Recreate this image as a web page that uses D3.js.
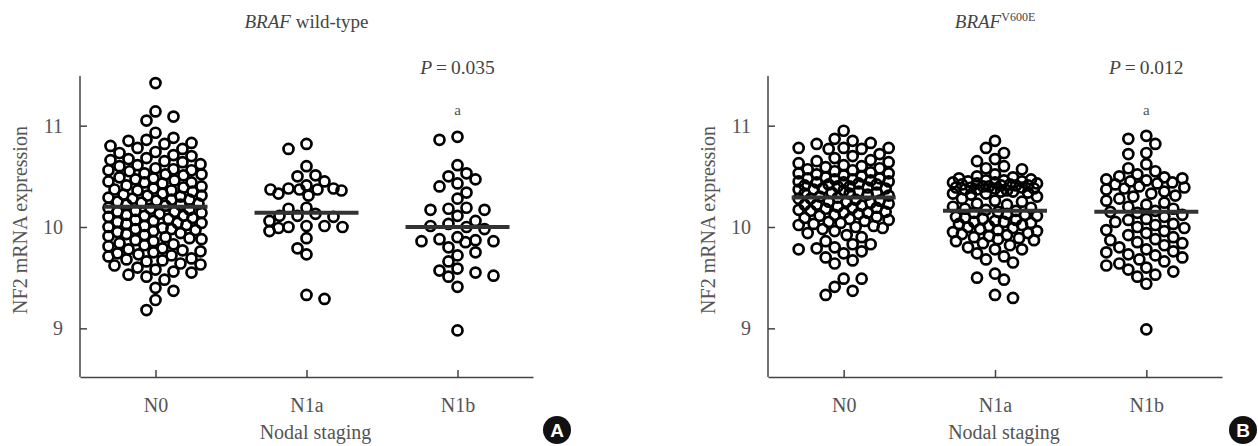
<!DOCTYPE html>
<html><head><meta charset="utf-8">
<script src="https://cdn.jsdelivr.net/npm/d3@7"></script>
<style>body{margin:0;background:#fff} svg{display:block} text{font-family:"Liberation Serif","DejaVu Serif","Noto Serif","Times New Roman",serif}</style>
</head><body><svg id="c" width="1258" height="446"></svg>
<script>
const categories = ["N0", "N1a", "N1b"];
const yTicks = [9, 10, 11];
const xAxisTitle = "Nodal staging";
const yAxisTitle = "NF2 mRNA expression";
const panelLetters = ["A", "B"];
const pValues = ["0.035", "0.012"];
const sigMarks = ["a", "a"];

// BRAF wild-type
const wtN0 = [11.42, 11.14, 11.09, 11.05,
  10.93, 10.88, 10.86, 10.85, 10.83, 10.82, 10.80,
  10.78, 10.77, 10.74, 10.73, 10.71, 10.70, 10.68, 10.66,
  10.67, 10.65, 10.64, 10.62, 10.61, 10.60, 10.58, 10.57, 10.56,
  10.56, 10.55, 10.53, 10.52, 10.52, 10.51, 10.49, 10.48, 10.47, 10.46, 10.45, 10.44,
  10.44, 10.43, 10.41, 10.40, 10.39, 10.38, 10.37, 10.36, 10.35, 10.33, 10.32, 10.36, 10.31,
  10.31, 10.30, 10.29, 10.28, 10.27, 10.26, 10.25, 10.24, 10.23, 10.22, 10.21, 10.19, 10.27, 10.22,
  10.18, 10.17, 10.16, 10.15, 10.14, 10.13, 10.12, 10.11, 10.10, 10.09, 10.08, 10.07, 10.15, 10.11,
  10.06, 10.05, 10.04, 10.03, 10.02, 10.01, 10.00, 9.99, 9.98, 9.97, 9.96, 9.95, 10.04, 9.98,
  9.94, 9.93, 9.92, 9.91, 9.89, 9.88, 9.87, 9.86, 9.84, 9.83, 9.90,
  9.82, 9.81, 9.79, 9.78, 9.77, 9.76, 9.74, 9.73, 9.72, 9.71, 9.75,
  9.69, 9.68, 9.67, 9.66, 9.64, 9.63, 9.62, 9.60,
  9.58, 9.56, 9.55, 9.53, 9.51, 9.48, 9.40, 9.37, 9.28, 9.18];
const wtN1a = [10.82, 10.77, 10.60, 10.51, 10.50, 10.45, 10.41, 10.38, 10.38, 10.37, 10.37, 10.37,
  10.36, 10.33, 10.31, 10.19, 10.18, 10.13, 10.11, 10.11, 10.10, 10.06, 10.01, 10.01, 10.00,
  10.00, 9.99, 9.96, 9.89, 9.79, 9.73, 9.33, 9.29];
const wtN1b = [10.89, 10.86, 10.61, 10.53, 10.50, 10.47, 10.43, 10.40, 10.34, 10.28, 10.19, 10.18,
  10.17, 10.17, 10.11, 10.06, 10.03, 10.01, 10.00, 9.98, 9.90, 9.88, 9.87, 9.86, 9.86, 9.85,
  9.80, 9.75, 9.72, 9.66, 9.59, 9.57, 9.55, 9.52, 9.51, 9.41, 8.98];
const wtMeans = [10.20, 10.14, 10.00];

// BRAF V600E
const v600eN0 = [10.95, 10.87, 10.85, 10.83, 10.82, 10.78, 10.78, 10.78, 10.77, 10.77, 10.72, 10.70, 10.68,
  10.66, 10.65, 10.64, 10.63, 10.61, 10.60, 10.59, 10.58, 10.57, 10.56, 10.55, 10.54, 10.53, 10.53, 10.52, 10.51, 10.50,
  10.49, 10.48, 10.48, 10.47, 10.46, 10.45, 10.45, 10.44, 10.43, 10.42, 10.42, 10.41, 10.40, 10.40, 10.39, 10.38,
  10.37, 10.37, 10.36, 10.35, 10.34, 10.34, 10.33, 10.32, 10.31, 10.30, 10.44, 10.38, 10.33, 10.47,
  10.29, 10.28, 10.28, 10.27, 10.26, 10.25, 10.24, 10.23, 10.22, 10.22, 10.21, 10.20, 10.19, 10.18, 10.17,
  10.16, 10.15, 10.14, 10.13, 10.12, 10.11, 10.10, 10.25, 10.19, 10.14,
  10.09, 10.08, 10.07, 10.06, 10.05, 10.04, 10.03, 10.02, 10.01, 10.00, 9.99, 9.98, 9.96, 9.94, 9.92, 9.90,
  9.86, 9.83, 9.83, 9.80, 9.79, 9.78, 9.76, 9.74, 9.70, 9.67, 9.64, 9.49, 9.49, 9.41, 9.37, 9.33];
const v600eN1a = [10.85, 10.78, 10.73, 10.67, 10.65, 10.60, 10.58, 10.57, 10.52, 10.50, 10.49, 10.48,
  10.47, 10.46, 10.45, 10.45, 10.44, 10.43, 10.43, 10.42, 10.42, 10.41, 10.41, 10.40, 10.40, 10.39,
  10.39, 10.38, 10.38, 10.37, 10.36, 10.35, 10.34, 10.33, 10.32, 10.30, 10.28, 10.26, 10.25, 10.23,
  10.44, 10.41, 10.37, 10.35, 10.46, 10.39, 10.33,
  10.22, 10.20, 10.19, 10.18, 10.17, 10.16, 10.15, 10.14, 10.13, 10.12, 10.11, 10.10, 10.09, 10.08,
  10.07, 10.06, 10.05, 10.05, 10.04, 10.03, 10.02, 10.01, 10.00, 9.99, 9.98, 9.97, 9.96, 9.95, 9.94,
  9.93, 9.92, 9.91, 9.90, 9.89, 9.88, 9.87, 9.86, 9.84, 9.82, 9.80, 9.78, 9.78, 9.74, 9.71, 9.68,
  9.65, 9.54, 9.50, 9.48, 9.33, 9.30];
const v600eN1b = [10.90, 10.87, 10.82, 10.73, 10.72, 10.62, 10.58, 10.55, 10.52, 10.50, 10.49, 10.48,
  10.47, 10.46, 10.45, 10.44, 10.43, 10.42, 10.40, 10.39, 10.38, 10.37, 10.35, 10.33, 10.31, 10.30,
  10.28, 10.26, 10.24, 10.22, 10.20, 10.18, 10.16, 10.15, 10.14, 10.12, 10.10, 10.08, 10.07, 10.05,
  10.03, 10.02, 10.00, 9.99, 9.97, 9.96, 9.94, 9.92, 9.90, 9.88, 9.87, 9.85, 9.84, 9.82, 9.80, 9.78,
  9.76, 9.75, 9.73, 9.72, 9.70, 9.68, 9.66, 9.64, 9.62, 9.60, 9.58, 9.56, 9.53, 9.51, 9.44, 8.99];
const v600eMeans = [10.29, 10.16, 10.15];

const svg = d3.select("#c");
const serif = '"Liberation Serif","DejaVu Serif","Noto Serif","Times New Roman",serif';
const sans = '"Liberation Sans",Arial,sans-serif';
const axisColor = "#444";
const textColor = "#555";

const y = d3.scaleLinear().domain([8.52, 11.49]).range([377, 76]);

// deterministic column-scatter layout: centre-first slots, fine fallback when crowded
function layout(values, cx, maxHalf) {
  const D = 10.5, step = 9;
  const pts = values.map(v => ({ v, py: y(v) })).sort((a, b) => a.py - b.py);
  const placed = [];
  const minDist = (o, py) => {
    let md = Infinity;
    for (const q of placed) {
      const dy = q.py - py;
      if (Math.abs(dy) >= D) continue;
      const d = Math.hypot(q.o - o, dy);
      if (d < md) md = d;
    }
    return md;
  };
  pts.forEach((p, i) => {
    const flip = ((i * 7 + 3) % 5) < 2 ? -1 : 1;
    const offs = [0];
    for (let k = step; k <= maxHalf; k += step) offs.push(flip * k, -flip * k);
    let best = null;
    for (const o of offs) { if (minDist(o, p.py) >= D) { best = o; break; } }
    if (best === null) {
      let bestD = -1;
      const fine = [];
      for (let o = -maxHalf; o <= maxHalf; o += 3) fine.push(o);
      const shift = (i * 11) % fine.length;
      for (let j = 0; j < fine.length; j++) {
        const o = fine[(j + shift) % fine.length];
        const md = minDist(o, p.py);
        if (md > bestD + 0.01) { bestD = md; best = o; }
      }
    }
    p.o = best;
    placed.push(p);
  });
  return placed.map(p => ({ v: p.v, x: cx + p.o, y: p.py }));
}

function panel(cfg) {
  const x = d3.scalePoint().domain(categories).range([cfg.x0, cfg.x1]).padding(0.5);
  const g = svg.append("g");
  const cxm = (cfg.x0 + cfg.x1) / 2;

  const t = g.append("text").attr("x", cxm).attr("y", 28).attr("text-anchor", "middle")
    .style("font-family", serif).attr("font-size", 19).attr("fill", "#444");
  t.append("tspan").attr("font-style", "italic").text("BRAF");
  if (cfg.sup) {
    t.append("tspan").attr("font-size", 12).attr("dy", -7).text(cfg.sup);
  } else {
    t.append("tspan").text(" " + cfg.titleRest);
  }

  const ya = g.append("g").attr("transform", `translate(${cfg.x0},0)`)
    .call(d3.axisLeft(y).tickValues(yTicks).tickSizeInner(-7).tickSizeOuter(0).tickPadding(17).tickFormat(d3.format("d")));
  const xa = g.append("g").attr("transform", `translate(0,377)`)
    .call(d3.axisBottom(x).tickSizeInner(-7).tickSizeOuter(0).tickPadding(21));
  [ya, xa].forEach(a => {
    a.attr("font-family", null);
    a.selectAll("path,line").attr("stroke", axisColor).attr("stroke-width", 1.5);
    a.selectAll("text").style("font-family", serif).attr("font-size", 20).attr("fill", textColor);
  });
  ya.select(".domain").attr("d", `M0,${y.range()[1]}V${y.range()[0]}`);

  g.append("text").attr("transform", `translate(${cfg.x0 - 53},220) rotate(-90)`)
    .attr("text-anchor", "middle").style("font-family", serif).attr("font-size", 20)
    .attr("fill", textColor).text(yAxisTitle);
  g.append("text").attr("x", cxm + 9).attr("y", 439).attr("text-anchor", "middle")
    .style("font-family", serif).attr("font-size", 20).attr("fill", textColor).text(xAxisTitle);

  cfg.groups.forEach((vals, i) => {
    const pts = layout(vals, x(categories[i]), cfg.half[i]);
    g.append("g").selectAll("circle").data(pts).join("circle")
      .attr("cx", d => d.x).attr("cy", d => d.y).attr("r", 5.0)
      .attr("fill", "none").attr("stroke", "#000").attr("stroke-width", 2.7);
  });
  g.append("g").selectAll("line").data(cfg.means).join("line")
    .attr("x1", (d, i) => x(categories[i]) - 52).attr("x2", (d, i) => x(categories[i]) + 52)
    .attr("y1", d => y(d)).attr("y2", d => y(d))
    .attr("stroke", "#333").attr("stroke-width", 4);

  const px = x(categories[2]);
  const pt = g.append("text").attr("x", px).attr("y", 74).attr("text-anchor", "middle")
    .style("font-family", serif).attr("font-size", 19.5).attr("fill", "#444");
  pt.append("tspan").attr("font-style", "italic").text("P");
  pt.append("tspan").text("\u2009=\u2009" + cfg.p);
  g.append("text").attr("x", px).attr("y", 115).attr("text-anchor", "middle")
    .style("font-family", serif).attr("font-size", 15).attr("fill", "#555").text(cfg.mark);

  g.append("circle").attr("cx", cfg.badgeX).attr("cy", 430).attr("r", 14).attr("fill", "#111");
  g.append("text").attr("x", cfg.badgeX).attr("y", 430).attr("dy", "0.36em").attr("text-anchor", "middle")
    .style("font-family", sans).attr("font-weight", "bold").attr("font-size", 19).attr("fill", "#fff")
    .text(cfg.letter);
}

panel({ x0: 80, x1: 533, titleRest: "wild-type", groups: [wtN0, wtN1a, wtN1b], means: wtMeans,
  half: [47, 37, 37], p: pValues[0], mark: sigMarks[0], badgeX: 557, letter: panelLetters[0] });
panel({ x0: 768, x1: 1222, sup: "V600E", groups: [v600eN0, v600eN1a, v600eN1b], means: v600eMeans,
  half: [45, 42, 40], p: pValues[1], mark: sigMarks[1], badgeX: 1243, letter: panelLetters[1] });
</script>
</body></html>
